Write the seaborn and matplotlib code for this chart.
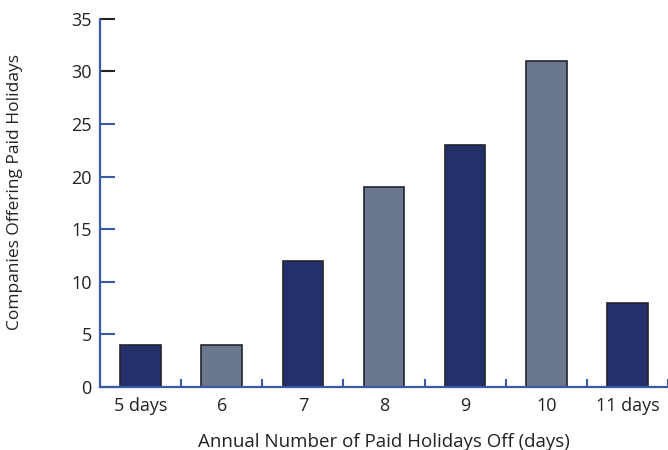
import matplotlib
matplotlib.use("Agg")
import matplotlib.pyplot as plt
import seaborn as sns
import pandas as pd

days = ["5 days", "6", "7", "8", "9", "10", "11 days"]
companies = [4, 4, 12, 19, 23, 31, 8]
shade = ["dark", "light", "dark", "light", "dark", "light", "dark"]

y_ticks = [0, 5, 10, 15, 20, 25, 30, 35]

navy = "#243069"
slate = "#6b778f"
axis_blue = "#3a5aa8"
text_col = "#222222"

sns.set_theme(style="white")
plt.rcParams["font.family"] = ["Open Sans", "DejaVu Sans"]

df = pd.DataFrame({"days": days, "companies": companies, "shade": shade})

fig, ax = plt.subplots(figsize=(6.68, 4.5), dpi=100)
fig.subplots_adjust(left=0.1497, right=1.0, top=0.958, bottom=0.14)

sns.barplot(data=df, x="days", y="companies", hue="shade",
            palette={"dark": navy, "light": slate}, saturation=1, width=0.5,
            dodge=False, legend=False, edgecolor="#24242c", linewidth=1.2,
            ax=ax)

ax.set_xlim(-0.5, len(days) - 0.5)
ax.set_ylim(0, 35)

for side in ["top", "right"]:
    ax.spines[side].set_visible(False)
for side in ["left", "bottom"]:
    ax.spines[side].set_color(axis_blue)
    ax.spines[side].set_linewidth(1.6)

# y ticks point inward
ax.set_yticks(y_ticks)
ax.set_yticklabels([str(t) for t in y_ticks])
ax.tick_params(axis="y", left=True, direction="in", length=11, width=1.5,
               labelsize=13, pad=6, color=axis_blue, labelcolor=text_col)
# the top two ticks are drawn dark in the original (tick marks are markers)
for val, t in zip(y_ticks, ax.yaxis.get_major_ticks()):
    if val >= 30:
        t.tick1line.set_markeredgecolor(text_col)

# x labels at bar centres, ticks between bars
ax.set_xticks(range(len(days)))
ax.set_xticklabels(days)
ax.tick_params(axis="x", which="major", bottom=True, length=0, labelsize=13,
               pad=7, labelcolor=text_col)
ax.set_xticks([i + 0.5 for i in range(len(days))], minor=True)
ax.tick_params(axis="x", which="minor", bottom=True, direction="in",
               length=6, width=1.5, color=axis_blue)

ax.set_xlabel("Annual Number of Paid Holidays Off (days)", fontsize=13.5,
              color=text_col, labelpad=13)
ax.set_ylabel("Companies Offering Paid Holidays", fontsize=12.5,
              color=text_col)
ax.yaxis.set_label_coords(-0.135, 0.53)

fig.savefig("out.png", dpi=100)
